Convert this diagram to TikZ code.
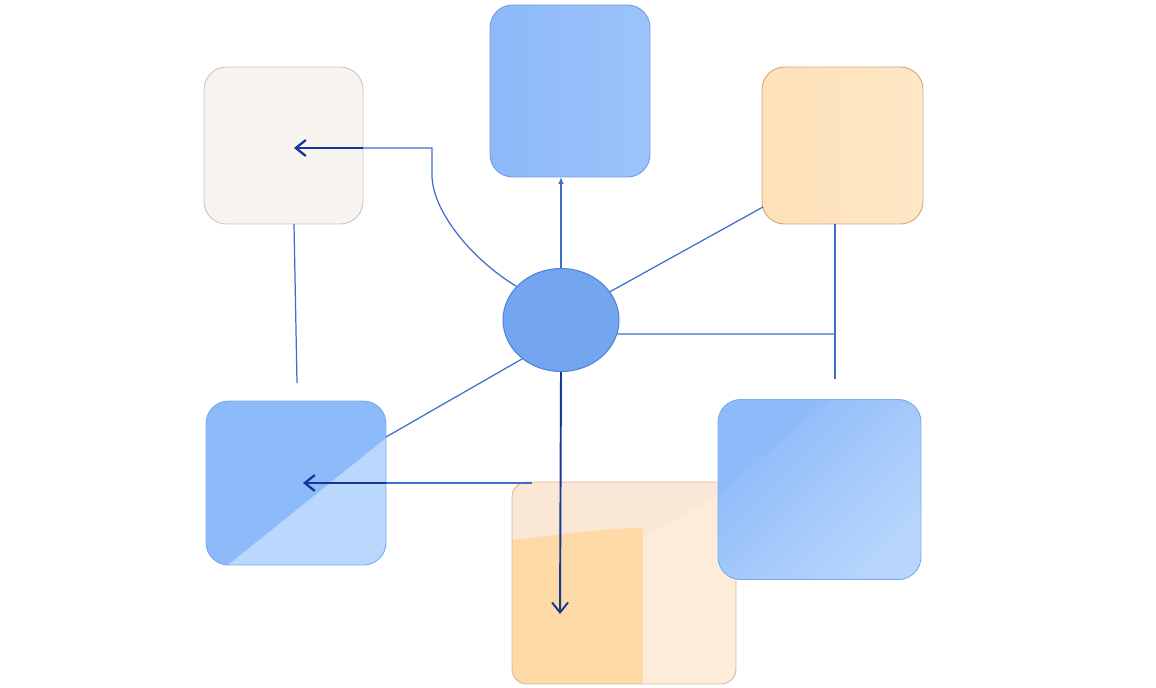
\documentclass[tikz,border=0pt]{standalone}
\usepackage[table]{xcolor}
\usepackage{tikz}
\usetikzlibrary{arrows.meta,calc,shapes.geometric}
\definecolor{linienblau}{HTML}{3D6DCB}
\definecolor{pfeilblau}{HTML}{14389A}
\definecolor{loFarbe}{HTML}{F7F3EE}
\definecolor{loRand}{HTML}{CDC5BD}
\definecolor{obLinks}{HTML}{8DB9F9}
\definecolor{obRechts}{HTML}{9CC4FB}
\definecolor{obRand}{HTML}{6E9DE6}
\definecolor{roLinks}{HTML}{FDE1B8}
\definecolor{roRechts}{HTML}{FEE7C6}
\definecolor{roRand}{HTML}{DCA27A}
\definecolor{mitteFarbe}{HTML}{73A6EE}
\definecolor{mitteRand}{HTML}{4F82D8}
\definecolor{blauDunkel}{HTML}{8DBAF9}
\definecolor{blauHell}{HTML}{BAD7FD}
\definecolor{blauRand}{HTML}{7BA8EE}
\definecolor{unPfirsich}{HTML}{FAE7D5}
\definecolor{unOrange}{HTML}{FDDAA6}
\definecolor{unHell}{HTML}{FDECD9}
\definecolor{unRand}{HTML}{D8B49C}

\begin{document}
\begin{tikzpicture}[x=0.02cm,y=-0.02cm,
  kasten/.style={rounded corners=0.45cm,inner sep=0pt,outer sep=0pt,line width=0.5pt},
  linie/.style={draw=linienblau,line width=0.7pt},
  pfeil/.style={draw=pfeilblau,line width=1.3pt,-{Straight Barb[length=2mm,width=3.2mm]}}]
%Rahmen wie im Vorbild (Koordinaten in Pixeln)
\useasboundingbox (0,0) rectangle (1156,687);
%Kaesten oben
\node[kasten,draw=loRand,fill=loFarbe,minimum width=3.18cm,minimum height=3.14cm] (kastenLO) at (283.5,145.5) {};
\node[kasten,draw=obRand,left color=obLinks,right color=obRechts,minimum width=3.2cm,minimum height=3.44cm] (kastenO) at (570,91) {};
\node[kasten,draw=roRand,left color=roLinks,right color=roRechts,minimum width=3.22cm,minimum height=3.14cm] (kastenRO) at (842.5,145.5) {};
%Kaesten unten, mit hellen Flaechen
\node[kasten,draw=blauRand,fill=blauDunkel,minimum width=3.6cm,minimum height=3.28cm,
  path picture={
    \path (path picture bounding box.north west) coordinate (nw);
    \fill[blauHell,sharp corners] ($(nw)+(22,164)$) -- ($(nw)+(180,37)$) -- ($(nw)+(180,164)$) -- cycle;}] (kastenLU) at (296,483) {};
\node[kasten,rounded corners=0.3cm,draw=unRand,fill=unPfirsich,minimum width=4.48cm,minimum height=4.04cm,
  path picture={
    \path (path picture bounding box.north west) coordinate (nw);
    \fill[unOrange,sharp corners] ($(nw)+(0,58)$) .. controls ($(nw)+(50,52)$) and ($(nw)+(100,46)$) .. ($(nw)+(131,46)$)
      -- ($(nw)+(131,204)$) -- ($(nw)+(0,204)$) -- cycle;
    \fill[unHell,sharp corners] ($(nw)+(131,55)$) -- ($(nw)+(224,4)$) -- ($(nw)+(224,204)$) -- ($(nw)+(131,204)$) -- cycle;}] (kastenU) at (624,583) {};
\node[kasten,draw=blauRand,top color=blauDunkel,bottom color=blauHell!95!blauDunkel,shading angle=45,minimum width=4.06cm,minimum height=3.6cm,
  path picture={
    \path (path picture bounding box.north west) coordinate (nw);
    \fill[blauDunkel,opacity=0.7,sharp corners] (nw) -- ($(nw)+(112,0)$) -- ($(nw)+(0,96)$) -- cycle;}] (kastenRU) at (819.5,489.5) {};
%Mitte
\node[ellipse,draw=mitteRand,fill=mitteFarbe,line width=0.6pt,inner sep=0pt,minimum width=2.32cm,minimum height=2.06cm] (mitte) at (561,320) {};
%Hilfspunkte
\coordinate (knick) at (432,148);
\coordinate (spitzeLO) at (294,148);
\coordinate (spitzeLU) at (303,483);
\coordinate (spitzeU) at (560,614);
\coordinate (startLU) at (532,483);
\coordinate (endeLO) at (297,383);
\coordinate (abzweig) at (835,334);
\coordinate (endeRO) at (835,379);
%Verbindungen
\draw[linie] (mitte.143) .. controls (470,258) and (432,210) .. (432,175) -- (knick) -- (kastenLO.east |- knick);
\draw[pfeil] (kastenLO.east |- knick) -- (spitzeLO);
\draw[linie,-{Latex[length=1.4mm,width=1.1mm]}] (mitte.north) -- (mitte.north |- kastenO.south);
\draw[linie] (mitte.30) -- ($(kastenRO.south west)+(1,-17)$);
\draw[linie] (mitte.-14) -- (abzweig);
\draw[linie] (kastenRO.south -| abzweig) -- (endeRO);
\draw[linie] (kastenLO.south -| spitzeLO) -- (endeLO);
\draw[linie] (mitte.225) -- ($(kastenLU.north east)+(0,36)$);
\draw[linie,line width=0.9pt] (startLU) -- (kastenLU.east |- spitzeLU);
\draw[pfeil] (kastenLU.east |- spitzeLU) -- (spitzeLU);
\draw[pfeil,line width=1.1pt] (mitte.south) -- (spitzeU);
\end{tikzpicture}
\end{document}
